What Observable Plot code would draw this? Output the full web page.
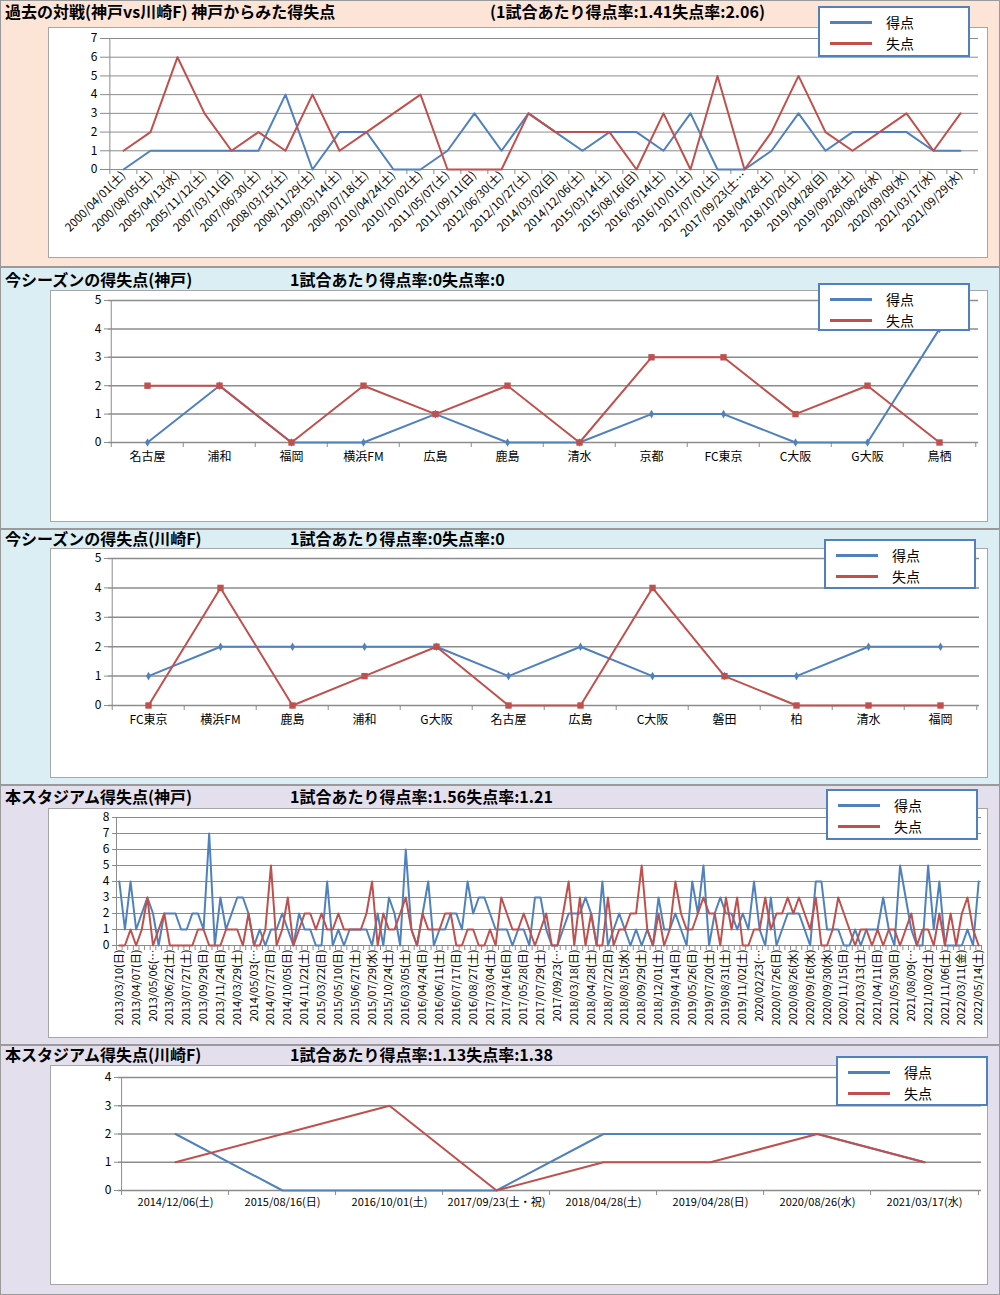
<!DOCTYPE html>
<html><head><meta charset="utf-8">
<script src="https://cdn.jsdelivr.net/npm/d3@7"></script>
<script src="https://cdn.jsdelivr.net/npm/@observablehq/plot@0.6"></script>
<style>
body{margin:0;width:1000px;height:1295px;position:relative;overflow:hidden;background:#fff;font-family:"Noto Sans CJK JP",sans-serif;}
.sec{position:absolute;left:0;width:998px;border:1px solid #9a9a9a;}
.title{position:absolute;font-weight:bold;font-size:16px;white-space:nowrap;line-height:16px;height:16px;color:#000;}
.box{position:absolute;background:#fff;border:1px solid #a6a6a6;box-sizing:border-box;}
.box svg{position:absolute;left:0;top:0;}
.legend{position:absolute;background:#fff;border:2px solid #4f81bd;box-sizing:border-box;width:152px;}
.li{position:absolute;left:10px;height:20px;display:flex;align-items:center;font-size:14px;}
.sw{display:inline-block;width:42px;height:3px;margin-right:14px;}
</style></head>
<body>
<div id="root"></div>
<script>
// ---------- data ----------
const h2hDates = ["2000/04/01(土)","2000/08/05(土)","2005/04/13(水)","2005/11/12(土)","2007/03/11(日)","2007/06/30(土)","2008/03/15(土)","2008/11/29(土)","2009/03/14(土)","2009/07/18(土)","2010/04/24(土)","2010/10/02(土)","2011/05/07(土)","2011/09/11(日)","2012/06/30(土)","2012/10/27(土)","2014/03/02(日)","2014/12/06(土)","2015/03/14(土)","2015/08/16(日)","2016/05/14(土)","2016/10/01(土)","2017/07/01(土)","2017/09/23(土…","2018/04/28(土)","2018/10/20(土)","2019/04/28(日)","2019/09/28(土)","2020/08/26(水)","2020/09/09(水)","2021/03/17(水)","2021/09/29(水)"];
const h2hScored   = [0,1,1,1,1,1,4,0,2,2,0,0,1,3,1,3,2,1,2,2,1,3,0,0,1,3,1,2,2,2,1,1];
const h2hConceded = [1,2,6,3,1,2,1,4,1,2,3,4,0,0,0,3,2,2,2,0,3,0,5,0,2,5,2,1,2,3,1,3];

const kobeSeasonOpp      = ["名古屋","浦和","福岡","横浜FM","広島","鹿島","清水","京都","FC東京","C大阪","G大阪","鳥栖"];
const kobeSeasonScored   = [0,2,0,0,1,0,0,1,1,0,0,4];
const kobeSeasonConceded = [2,2,0,2,1,2,0,3,3,1,2,0];

const kawaSeasonOpp      = ["FC東京","横浜FM","鹿島","浦和","G大阪","名古屋","広島","C大阪","磐田","柏","清水","福岡"];
const kawaSeasonScored   = [1,2,2,2,2,1,2,1,1,1,2,2];
const kawaSeasonConceded = [0,4,0,1,2,0,0,4,1,0,0,0];

// tick labels (every third match) for the Kobe home-stadium chart
const stadiumKobeLabels = ["2013/03/10(日)","2013/04/07(日)","2013/05/06(…","2013/06/22(土)","2013/07/27(土)","2013/09/29(日)","2013/11/24(日)","2014/03/29(土)","2014/05/03(…","2014/07/27(日)","2014/10/05(日)","2014/11/22(土)","2015/03/22(日)","2015/05/10(日)","2015/06/27(土)","2015/07/29(水)","2015/10/24(土)","2016/03/05(土)","2016/04/24(日)","2016/06/11(土)","2016/07/17(日)","2016/08/27(土)","2017/03/04(土)","2017/04/16(日)","2017/05/28(日)","2017/07/29(土)","2017/09/23(…","2018/03/18(日)","2018/04/28(土)","2018/07/22(日)","2018/08/15(水)","2018/09/29(土)","2018/12/01(土)","2019/04/14(日)","2019/05/26(日)","2019/07/20(土)","2019/08/31(土)","2019/11/02(土)","2020/02/23(…","2020/07/26(日)","2020/08/26(水)","2020/09/16(水)","2020/09/30(水)","2020/11/15(日)","2021/03/13(土)","2021/04/11(日)","2021/05/30(日)","2021/08/09(…","2021/10/02(土)","2021/11/06(土)","2022/03/11(金)","2022/05/14(土)"];
const stadiumKobeScored = [
 4,1,4,1,2,3,2,0,2,2, 2,1,1,2,2,1,7,0,3,1, 2,3,3,2,0,1,0,1,1,2, 1,0,2,1,1,0,0,4,0,1,
 0,1,1,1,1,0,2,0,3,2, 0,6,1,0,2,4,0,1,1,2, 2,1,4,2,3,3,2,1,1,1, 0,1,1,0,3,3,1,0,0,1,
 2,2,2,3,2,0,4,0,1,2, 1,0,1,0,1,0,3,1,1,2, 1,0,4,2,5,0,2,3,2,2, 1,2,1,4,1,0,3,0,1,2,
 2,2,1,0,4,4,1,1,1,0, 0,1,0,1,1,1,3,1,0,5, 3,1,0,0,5,1,4,0,0,0, 0,1,0,4];
const stadiumKobeConceded = [
 0,0,1,0,1,3,0,1,2,0, 0,0,0,0,1,1,0,0,0,1, 1,1,0,2,0,0,1,5,0,1, 3,0,1,2,2,1,2,1,1,2,
 1,1,1,1,2,4,0,2,1,1, 2,3,1,0,2,1,1,1,2,2, 0,0,1,1,0,0,1,0,3,2, 1,1,2,1,0,1,2,0,0,2,
 4,0,3,0,2,0,0,3,0,1, 1,2,2,5,1,0,2,0,1,4, 2,1,1,2,3,2,2,0,3,1, 3,0,0,1,1,3,1,2,2,3,
 2,3,2,1,3,0,0,1,3,2, 1,0,1,1,0,1,0,1,1,0, 1,2,0,1,1,0,2,0,2,0, 2,3,1,0];

const stadiumKawaDates    = ["2014/12/06(土)","2015/08/16(日)","2016/10/01(土)","2017/09/23(土・祝)","2018/04/28(土)","2019/04/28(日)","2020/08/26(水)","2021/03/17(水)"];
const stadiumKawaScored   = [2,0,0,0,2,2,2,1];
const stadiumKawaConceded = [1,2,3,0,1,1,2,1];

const titles = [
  ["過去の対戦(神戸vs川崎F)  神戸からみた得失点", "(1試合あたり得点率:1.41失点率:2.06)"],
  ["今シーズンの得失点(神戸)", "1試合あたり得点率:0失点率:0"],
  ["今シーズンの得失点(川崎F)", "1試合あたり得点率:0失点率:0"],
  ["本スタジアム得失点(神戸)", "1試合あたり得点率:1.56失点率:1.21"],
  ["本スタジアム得失点(川崎F)", "1試合あたり得点率:1.13失点率:1.38"]
];
const legendNames = ["得点","失点"];

// ---------- styling ----------
const BLUE = "#4f81bd", RED = "#c0504d", GRID = "#8c8c8c";
const FONT = "'Noto Sans CJK JP', sans-serif";

function lineChart(o) {
  const n = o.cats.length;
  const rows = o.cats.map((c, i) => ({c, s: o.scored[i], l: o.conceded[i]}));
  const step = (o.width - o.ml - o.mr) / n;
  const yTicks = d3.range(0, o.yMax + 1);
  const marks = [
    Plot.ruleY(yTicks, {stroke: GRID, strokeWidth: o.gridW || 1}),
    Plot.ruleX([o.cats[0]], {dx: -step / 2, stroke: GRID}),
    Plot.ruleX(o.cats, {dx: -step / 2, y1: 0, y2: 0, insetBottom: -5, stroke: GRID}),
    Plot.ruleX([o.cats[n - 1]], {dx: step / 2, y1: 0, y2: 0, insetBottom: -5, stroke: GRID}),
    Plot.axisY(yTicks, {tickSize: 4, tickPadding: 3, fontSize: o.yFont || 12, tickFormat: d => d, stroke: GRID, label: null}),
    Plot.axisX(o.xTicks || o.cats, {tickSize: 0, tickRotate: o.rotate || 0, tickPadding: o.xPad ?? 6,
      fontSize: o.xFont || 11, tickFormat: o.fmt || (d => d), label: null}),
    Plot.line(rows, {x: "c", y: "s", stroke: BLUE, strokeWidth: 2}),
    Plot.line(rows, {x: "c", y: "l", stroke: RED, strokeWidth: 2})
  ];
  if (o.markers) {
    marks.push(Plot.dot(rows, {x: "c", y: "s", symbol: "diamond", r: 2.6, fill: BLUE, stroke: null}));
    marks.push(Plot.dot(rows, {x: "c", y: "l", symbol: "square", r: 3.6, fill: RED, stroke: null}));
  }
  return Plot.plot({
    width: o.width, height: o.height,
    marginLeft: o.ml, marginRight: o.mr, marginTop: o.mt, marginBottom: o.mb,
    x: {type: "point", domain: o.cats, padding: 0.5, label: null},
    y: {domain: [0, o.yMax], label: null},
    style: {fontFamily: FONT, background: "transparent", color: "#000", overflow: "visible"},
    marks
  });
}

const root = document.getElementById("root");
function el(tag, cls, style, text) {
  const e = document.createElement(tag);
  if (cls) e.className = cls;
  if (style) Object.assign(e.style, style);
  if (text != null) e.textContent = text;
  return e;
}

const sections = [
  {top: 0, h: 265, bg: "#fce4d6", titleTop: 3, t2Left: 490, box: [48, 27, 940, 231], leg: [818, 6, 51]},
  {top: 267, h: 260, bg: "#dbeef4", titleTop: 271, t2Left: 290, box: [50, 290, 938, 232], leg: [818, 283, 48]},
  {top: 529, h: 254, bg: "#dbeef4", titleTop: 530, t2Left: 290, box: [50, 548, 938, 230], leg: [824, 539, 50]},
  {top: 785, h: 258, bg: "#e4dfec", titleTop: 788, t2Left: 290, box: [48, 808, 940, 230], leg: [826, 789, 51]},
  {top: 1045, h: 248, bg: "#e4dfec", titleTop: 1046, t2Left: 290, box: [50, 1065, 938, 220], leg: [836, 1056, 50]}
];

const charts = [
  {cats: h2hDates, scored: h2hScored, conceded: h2hConceded, yMax: 7, ml: 55, mr: 9, mt: 10, mb: 88, rotate: -45, xFont: 11.5, xPad: 4},
  {cats: kobeSeasonOpp, scored: kobeSeasonScored, conceded: kobeSeasonConceded, yMax: 5, ml: 57, mr: 9, mt: 9, mb: 79, markers: true, xFont: 12, xPad: 10, gridW: 1.5},
  {cats: kawaSeasonOpp, scored: kawaSeasonScored, conceded: kawaSeasonConceded, yMax: 5, ml: 57, mr: 8, mt: 9, mb: 72, markers: true, xFont: 12, xPad: 10, gridW: 1.5},
  {cats: d3.range(stadiumKobeScored.length), scored: stadiumKobeScored, conceded: stadiumKobeConceded, yMax: 8,
   ml: 67, mr: 6, mt: 8, mb: 92, rotate: -90, xFont: 11, xPad: 4,
   xTicks: d3.range(0, stadiumKobeScored.length, 3), fmt: i => stadiumKobeLabels[i / 3]},
  {cats: stadiumKawaDates, scored: stadiumKawaScored, conceded: stadiumKawaConceded, yMax: 4, ml: 67, mr: 6, mt: 11, mb: 94, xFont: 11, xPad: 8, gridW: 1.5}
];

sections.forEach((s, k) => {
  root.appendChild(el("div", "sec", {top: s.top + "px", height: s.h + "px", background: s.bg}));
  root.appendChild(el("div", "title", {left: "5px", top: s.titleTop + "px"}, titles[k][0]));
  root.appendChild(el("div", "title", {left: s.t2Left + "px", top: s.titleTop + "px"}, titles[k][1]));
  const [bx, by, bw, bh] = s.box;
  const box = el("div", "box", {left: bx + "px", top: by + "px", width: bw + "px", height: bh + "px"});
  const c = charts[k];
  box.appendChild(lineChart({...c, width: bw - 2, height: bh - 2}));
  root.appendChild(box);
  const [lx, ly, lh] = s.leg;
  const leg = el("div", "legend", {left: lx + "px", top: ly + "px", height: lh + "px"});
  [BLUE, RED].forEach((col, j) => {
    const row = el("div", "li", {top: (4 + j * 21) + "px"});
    row.appendChild(el("span", "sw", {background: col}));
    row.appendChild(el("span", null, null, legendNames[j]));
    leg.appendChild(row);
  });
  root.appendChild(leg);
});
</script>
</body></html>
